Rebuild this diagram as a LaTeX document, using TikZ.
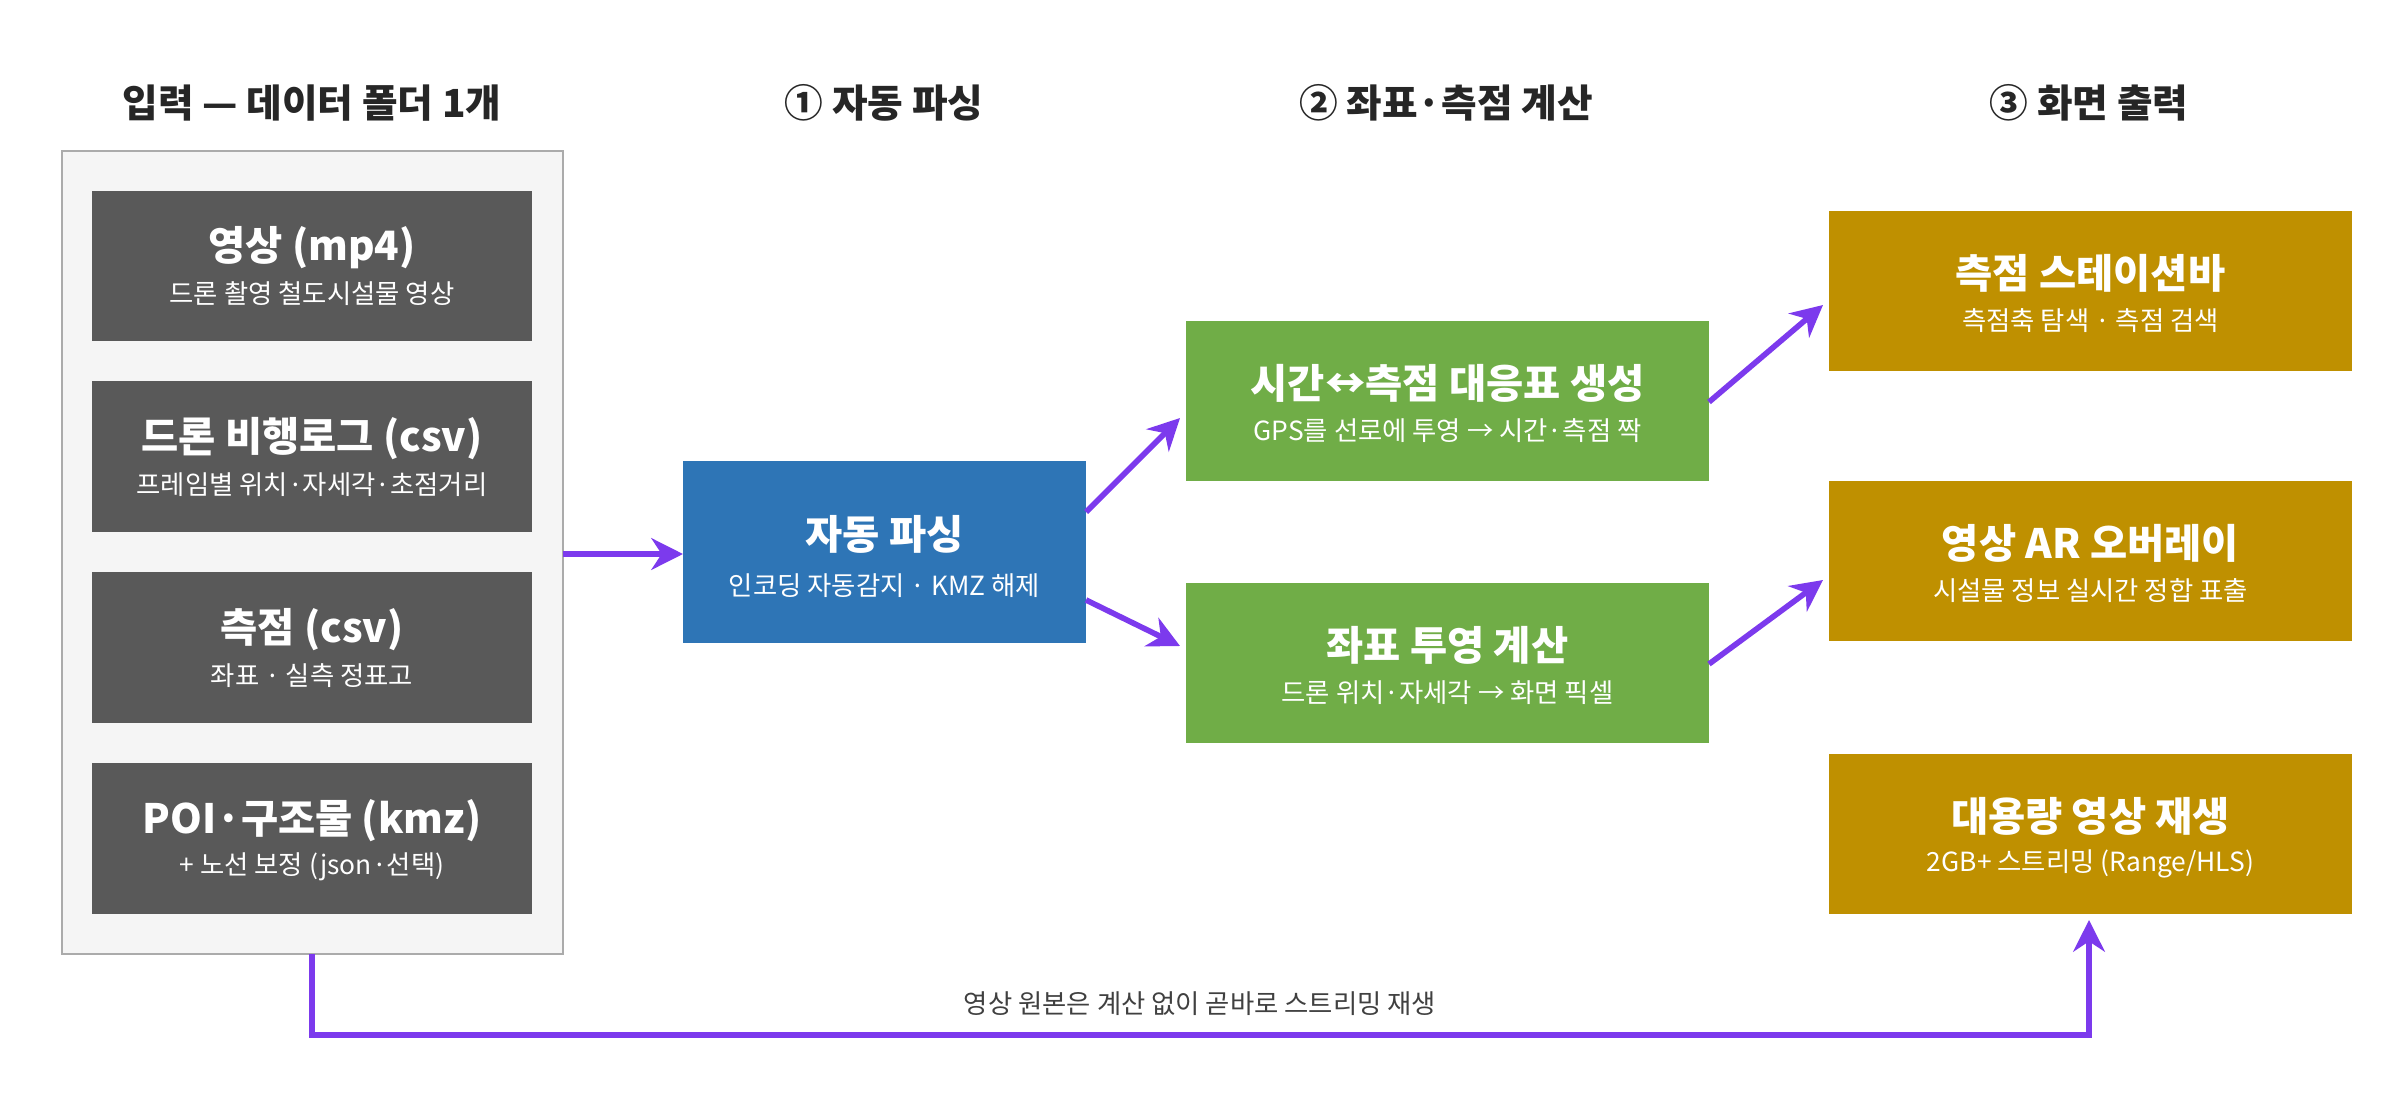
\documentclass[tikz,border=0pt]{standalone}
\usepackage{fontspec}
\setmainfont{Noto Sans CJK KR}
\usetikzlibrary{arrows.meta}
\definecolor{dg}{HTML}{595959}
\definecolor{bl}{HTML}{2E75B6}
\definecolor{gr}{HTML}{70AD47}
\definecolor{gd}{HTML}{BF9000}
\definecolor{pu}{HTML}{7C3AED}
\begin{document}
\begin{tikzpicture}[x=0.01cm,y=-0.01cm,
 box/.style={draw=none,text=white,align=center,inner sep=0pt},
 hdr/.style={font=\fontsize{11}{13}\selectfont\bfseries,text=black!85},
 ttl/.style={font=\fontsize{11.5}{14}\selectfont\bfseries},
 sub/.style={font=\fontsize{7.5}{9}\selectfont},
 arr/.style={draw=pu,line width=1.6pt,-{Stealth[length=9pt,width=9pt]}}]
\useasboundingbox (0,0) rectangle (2400,1100);
\node[hdr] (h0) at (312,103) {입력 — 데이터 폴더 1개};
\node[hdr] (h1) at (884,103) {① 자동 파싱};
\node[hdr] (h2) at (1446,103) {② 좌표·측점 계산};
\node[hdr] (h3) at (2089,103) {③ 화면 출력};
\draw[fill=black!4,draw=black!33,line width=0.8pt] (62,151) rectangle (563,954);
\coordinate (outR) at (563,554);
\coordinate (outB) at (312,954);
\newcommand\mybox[7]{%
 \fill[#2] (#3) rectangle (#4);
 \node[box,ttl] (#1) at ($(#3)!0.5!(#4)+(0,-18)$) {#5};
 \node[box,sub] (#1s) at ($(#3)!0.5!(#4)+(0,#7)$) {#6};}
\usetikzlibrary{calc}
\mybox{a}{dg}{92,191}{532,341}{영상 (mp4)}{드론 촬영 철도시설물 영상}{28}
\mybox{b}{dg}{92,381}{532,532}{드론 비행로그 (csv)}{프레임별 위치·자세각·초점거리}{28}
\mybox{c}{dg}{92,572}{532,723}{측점 (csv)}{좌표 · 실측 정표고}{28}
\mybox{d}{dg}{92,763}{532,914}{POI·구조물 (kmz)}{+ 노선 보정 (json·선택)}{28}
\mybox{p}{bl}{683,461}{1086,643}{자동 파싱}{인코딩 자동감지 · KMZ 해제}{34}
\mybox{g1}{gr}{1186,321}{1709,481}{시간↔측점 대응표 생성}{GPS를 선로에 투영 → 시간·측점 짝}{30}
\mybox{g2}{gr}{1186,583}{1709,743}{좌표 투영 계산}{드론 위치·자세각 → 화면 픽셀}{30}
\mybox{o1}{gd}{1829,211}{2352,371}{측점 스테이션바}{측점축 탐색 · 측점 검색}{30}
\mybox{o2}{gd}{1829,481}{2352,641}{영상 AR 오버레이}{시설물 정보 실시간 정합 표출}{30}
\mybox{o3}{gd}{1829,754}{2352,914}{대용량 영상 재생}{2GB+ 스트리밍 (Range/HLS)}{30}
\coordinate (pL) at (683,554);
\coordinate (pE1) at (1086,512);
\coordinate (pE2) at (1086,600);
\coordinate (g1L) at (1180,418);
\coordinate (g2L) at (1180,646);
\coordinate (g1R) at (1709,402);
\coordinate (g2R) at (1709,664);
\coordinate (o1L) at (1823,305);
\coordinate (o2L) at (1823,580);
\coordinate (o3B) at (2089,920);
\coordinate (bend1) at (312,1035);
\coordinate (bend2) at (2089,1035);
\draw[arr] (outR) -- (pL);
\draw[arr] (pE1) -- (g1L);
\draw[arr] (pE2) -- (g2L);
\draw[arr] (g1R) -- (o1L);
\draw[arr] (g2R) -- (o2L);
\draw[arr] (outB) -- (bend1) -- (bend2) -- (o3B);
\node[sub,text=black!75] (lbl) at (1200,1004) {영상 원본은 계산 없이 곧바로 스트리밍 재생};
\end{tikzpicture}
\end{document}
